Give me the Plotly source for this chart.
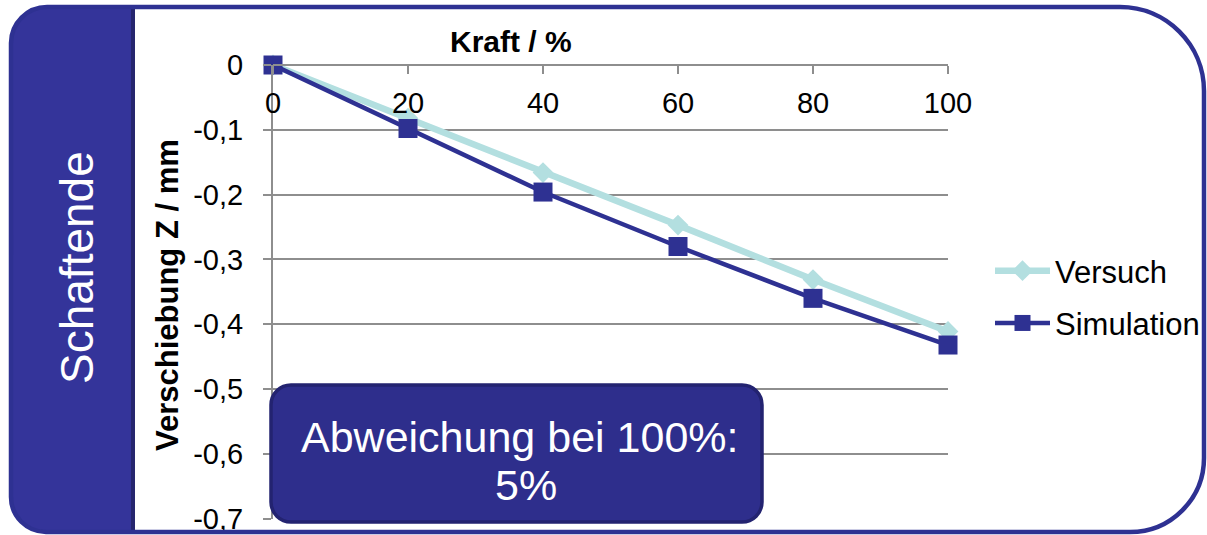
import plotly.graph_objects as go

W, H = 1207, 535

# ---- data ----
kraft = [0, 20, 40, 60, 80, 100]
versuch = [0, -0.082, -0.166, -0.247, -0.331, -0.411]
simulation = [0, -0.098, -0.196, -0.280, -0.360, -0.432]
x_ticks = [0, 20, 40, 60, 80, 100]
y_ticks = [0, -0.1, -0.2, -0.3, -0.4, -0.5, -0.6, -0.7]
y_ticktext = ["0", "-0,1", "-0,2", "-0,3", "-0,4", "-0,5", "-0,6", "-0,7"]

FONT = "Liberation Sans, Arial, sans-serif"
DARK = "#2e3192"
LIGHT = "#b3dfe0"
GRID = "#8e8e8e"


def px(x):
    return x / W


def py(y):
    return 1 - y / H


def rrect(x0, y0, x1, y1, rtl, rtr, rbr, rbl):
    k = 0.5523
    p = []
    p.append(f"M{px(x0 + rtl)},{py(y0)}")
    p.append(f"L{px(x1 - rtr)},{py(y0)}")
    if rtr:
        p.append(f"C{px(x1 - rtr + k * rtr)},{py(y0)} {px(x1)},{py(y0 + rtr - k * rtr)} {px(x1)},{py(y0 + rtr)}")
    p.append(f"L{px(x1)},{py(y1 - rbr)}")
    if rbr:
        p.append(f"C{px(x1)},{py(y1 - rbr + k * rbr)} {px(x1 - rbr + k * rbr)},{py(y1)} {px(x1 - rbr)},{py(y1)}")
    p.append(f"L{px(x0 + rbl)},{py(y1)}")
    if rbl:
        p.append(f"C{px(x0 + rbl - k * rbl)},{py(y1)} {px(x0)},{py(y1 - rbl + k * rbl)} {px(x0)},{py(y1 - rbl)}")
    p.append(f"L{px(x0)},{py(y0 + rtl)}")
    if rtl:
        p.append(f"C{px(x0)},{py(y0 + rtl - k * rtl)} {px(x0 + rtl - k * rtl)},{py(y0)} {px(x0 + rtl)},{py(y0)}")
    p.append("Z")
    return " ".join(p)


fig = go.Figure()
fig.add_trace(go.Scatter(
    x=kraft, y=versuch, name="Versuch", mode="lines+markers",
    line=dict(color=LIGHT, width=6.5),
    marker=dict(symbol="diamond", size=16, color=LIGHT),
    cliponaxis=False, legendgroup="a",
))
fig.add_trace(go.Scatter(
    x=kraft, y=simulation, name="Simulation", mode="lines+markers",
    line=dict(color=DARK, width=4.5),
    marker=dict(symbol="square", size=19, color=DARK),
    cliponaxis=False, legendgroup="b",
))

plot_top, plot_bot = 65, 519
fig.update_layout(
    width=W, height=H, autosize=False,
    margin=dict(l=0, r=0, t=0, b=0, pad=0, autoexpand=False),
    paper_bgcolor="white", plot_bgcolor="white",
    font=dict(family=FONT, size=29, color="black"),
    showlegend=True,
    legend=dict(
        x=px(990), y=py(297), xanchor="left", yanchor="middle",
        font=dict(size=31, family=FONT, color="black"),
        bgcolor="rgba(0,0,0,0)", traceorder="grouped", tracegroupgap=9,
        itemwidth=55,
    ),
    xaxis=dict(
        domain=[px(273), px(948)], range=[0, 100], automargin=False,
        anchor="free", position=py(plot_top), side="bottom",
        tickvals=x_ticks, ticks="outside", ticklen=8, tickwidth=2, tickcolor=GRID,
        showline=True, linecolor=GRID, linewidth=2, showgrid=False, zeroline=False,
        tickfont=dict(size=29, family=FONT, color="black"),
        ticklabelstandoff=4,
    ),
    yaxis=dict(
        domain=[py(plot_bot), py(plot_top)], range=[-0.7004, 0], automargin=False,
        tickvals=y_ticks, ticktext=y_ticktext,
        ticks="outside", ticklen=8, tickwidth=2, tickcolor=GRID,
        showline=True, linecolor=GRID, linewidth=2,
        showgrid=True, gridcolor=GRID, gridwidth=2, zeroline=False,
        tickfont=dict(size=29, family=FONT, color="black"),
        ticklabelstandoff=14,
    ),
    shapes=[
        # left panel
        dict(type="path", xref="paper", yref="paper", layer="above",
             path=rrect(11, 7, 133, 532, 36, 0, 0, 35),
             fillcolor="#34349a", line=dict(width=0)),
        dict(type="line", xref="paper", yref="paper", layer="above",
             x0=px(133), x1=px(133), y0=py(7), y1=py(532),
             line=dict(color="#26266e", width=4)),
        # outer frame
        dict(type="path", xref="paper", yref="paper", layer="above",
             path=rrect(11, 7, 1204, 532, 36, 84, 74, 35),
             fillcolor="rgba(0,0,0,0)", line=dict(color=DARK, width=4.5)),
        # annotation box
        dict(type="path", xref="paper", yref="paper", layer="above",
             path=rrect(271, 385, 762, 522, 20, 20, 20, 20),
             fillcolor="#2e2e8c", line=dict(color="#232370", width=3.5)),
    ],
    annotations=[
        dict(text="Schaftende", xref="paper", yref="paper", x=px(77), y=py(268),
             xanchor="center", yanchor="middle", textangle=-90, showarrow=False,
             font=dict(size=46, color="white", family=FONT)),
        dict(text="<b>Kraft / %</b>", xref="paper", yref="paper", x=px(511), y=py(41),
             xanchor="center", yanchor="middle", showarrow=False,
             font=dict(size=30, color="black", family=FONT)),
        dict(text="<b>Verschiebung Z / mm</b>", xref="paper", yref="paper", x=px(167), y=py(295),
             xanchor="center", yanchor="middle", textangle=-90, showarrow=False,
             font=dict(size=31, color="black", family=FONT)),
        dict(text="Abweichung bei 100%:", xref="paper", yref="paper", x=px(519), y=py(437),
             xanchor="center", yanchor="middle", showarrow=False,
             font=dict(size=43, color="white", family=FONT)),
        dict(text="5%", xref="paper", yref="paper", x=px(526), y=py(485),
             xanchor="center", yanchor="middle", showarrow=False,
             font=dict(size=43, color="white", family=FONT)),
    ],
)

fig.write_html(
    "out.html",
    post_script="document.body.style.margin='0';document.body.style.overflow='hidden';",
)
